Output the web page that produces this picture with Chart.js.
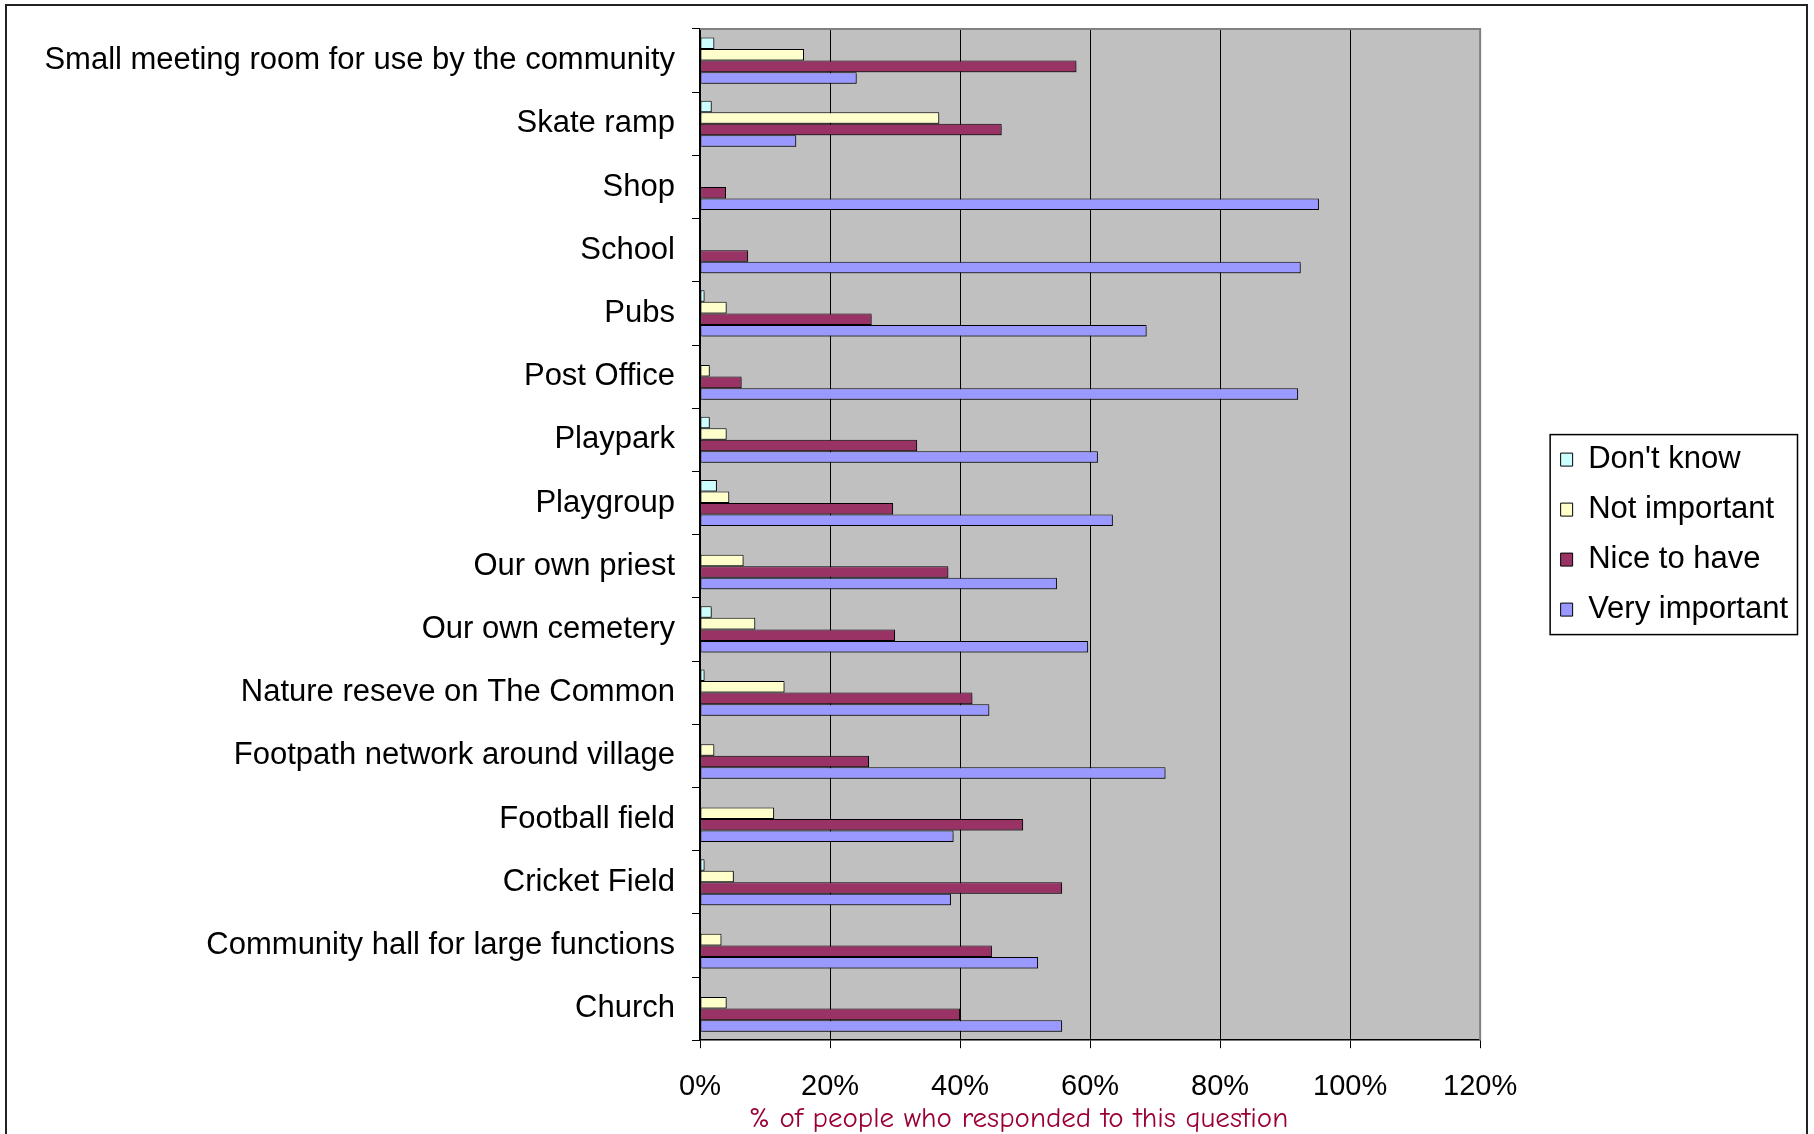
<!DOCTYPE html>
<html><head><meta charset="utf-8">
<script src="https://cdn.jsdelivr.net/npm/chart.js@4.4.1/dist/chart.umd.min.js"></script>
<style>html,body{margin:0;padding:0;background:#fff;} canvas{display:block;}</style>
</head><body>
<canvas id="c" width="1814" height="1134"></canvas>
<script>
const categories = ["Small meeting room for use by the community", "Skate ramp", "Shop", "School", "Pubs", "Post Office", "Playpark", "Playgroup", "Our own priest", "Our own cemetery", "Nature reseve on The Common", "Footpath network around village", "Football field", "Cricket Field", "Community hall for large functions", "Church"];
const dontKnow      = [2.2, 1.8, 0, 0, 0.7, 0, 1.5, 2.6, 0, 1.8, 0.7, 0, 0, 0.7, 0, 0];
const notImportant  = [16.0, 36.8, 0, 0, 4.1, 1.5, 4.1, 4.5, 6.7, 8.5, 13.0, 2.2, 11.4, 5.2, 3.3, 4.1];
const niceToHave    = [57.9, 46.4, 4.0, 7.4, 26.4, 6.4, 33.4, 29.7, 38.2, 30.0, 41.9, 26.0, 49.7, 55.7, 44.9, 40.0];
const veryImportant = [24.1, 14.8, 95.2, 92.4, 68.7, 92.0, 61.2, 63.5, 54.9, 59.7, 44.5, 71.6, 39.0, 38.6, 52.0, 55.7];
const seriesNames = ["Don't know", "Not important", "Nice to have", "Very important"];
const seriesColors = ["#ccffff", "#ffffcc", "#993366", "#9999ff"];
const xMin = 0, xMax = 120, xStep = 20;
const xTitle = "% of people who responded to this question";

const FONT = '"Liberation Sans", Arial, sans-serif';

const frame = {
  id: 'frame',
  beforeDraw(chart) {
    const {ctx, chartArea: a} = chart;
    ctx.save();
    ctx.fillStyle = '#fff';
    ctx.fillRect(0, 0, chart.width, chart.height);
    ctx.strokeStyle = '#222';
    ctx.lineWidth = 2;
    ctx.strokeRect(6, 5, chart.width - 13, chart.height + 20);
    ctx.fillStyle = '#c0c0c0';
    ctx.fillRect(a.left, a.top, a.width, a.height);
    ctx.restore();
  },
  beforeDatasetsDraw(chart) {
    const {ctx, chartArea: a} = chart;
    ctx.save();
    ctx.strokeStyle = '#808080';
    ctx.lineWidth = 2;
    ctx.beginPath();
    ctx.moveTo(a.left, a.top);
    ctx.lineTo(a.right, a.top);
    ctx.lineTo(a.right, a.bottom);
    ctx.stroke();
    ctx.restore();
    ctx.save();
    ctx.shadowColor = 'rgba(0,0,0,0.35)';
    ctx.shadowOffsetX = 2;
    ctx.shadowOffsetY = 2;
    ctx.shadowBlur = 0;
  },
  afterDatasetsDraw(chart) {
    chart.ctx.restore();
  },
  afterDraw(chart) {
    const ctx = chart.ctx;
    const hb = chart.legend.legendHitBoxes;
    if (hb && hb.length) {
      const l = Math.min(...hb.map(h => h.left)) - 10.5;
      const t = hb[0].top - 9.5;
      const r = Math.max(...hb.map(h => h.left + h.width)) + 9.5;
      const last = hb[hb.length - 1];
      const b = last.top + last.height + 9.5;
      ctx.save();
      ctx.strokeStyle = '#000';
      ctx.lineWidth = 1.5;
      ctx.strokeRect(l, t, r - l, b - t);
      ctx.restore();
    }
    const xs = chart.scales.x;
    ctx.save();
    ctx.font = '29px "Comic Sans MS", "Comic Neue", "DejaVu Sans", sans-serif';
    ctx.fillStyle = '#990033';
    ctx.textAlign = 'center';
    ctx.textBaseline = 'alphabetic';
    ctx.fillText(xTitle, xs.getPixelForValue(49), xs.bottom + 2);
    ctx.restore();
  }
};

const seriesData = [dontKnow, notImportant, niceToHave, veryImportant];

new Chart(document.getElementById('c'), {
  type: 'bar',
  data: {
    labels: categories,
    datasets: seriesNames.map((name, i) => ({
      label: name,
      data: seriesData[i],
      backgroundColor: seriesColors[i],
      borderColor: '#000',
      borderWidth: 1,
      borderSkipped: false,
      categoryPercentage: 0.73,
      barPercentage: 1
    }))
  },
  options: {
    responsive: false,
    animation: false,
    indexAxis: 'y',
    layout: {padding: {left: 10, top: 29, right: 16, bottom: 9}},
    scales: {
      x: {
        min: xMin, max: xMax,
        ticks: {stepSize: xStep, callback: v => v + '%', font: {family: FONT, size: 29}, color: '#000', padding: 21, maxRotation: 0},
        grid: {color: '#000', lineWidth: 1, tickLength: 8, tickColor: '#000'},
        border: {color: '#000', width: 1.5}
      },
      y: {
        ticks: {font: {family: FONT, size: 31}, color: '#000', padding: 17, autoSkip: false},
        grid: {drawOnChartArea: false, tickLength: 8, color: '#000', offset: true},
        border: {color: '#000', width: 1.5},
        afterFit(s) { s.width = 690; s.paddingTop = 0; s.paddingBottom = 0; }
      },
      y2: {
        type: 'linear', position: 'right', display: true,
        ticks: {display: false},
        grid: {display: false, drawTicks: false},
        border: {display: false},
        afterFit(s) { s.width = 61.5; s.paddingTop = 0; s.paddingBottom = 0; }
      }
    },
    plugins: {
      legend: {
        position: 'right', fullSize: false, align: 'center',
        labels: {font: {family: FONT, size: 31}, color: '#000', boxWidth: 12, boxHeight: 13, padding: 19}
      },
      tooltip: {enabled: false}
    }
  },
  plugins: [frame]
});
</script>
</body></html>
